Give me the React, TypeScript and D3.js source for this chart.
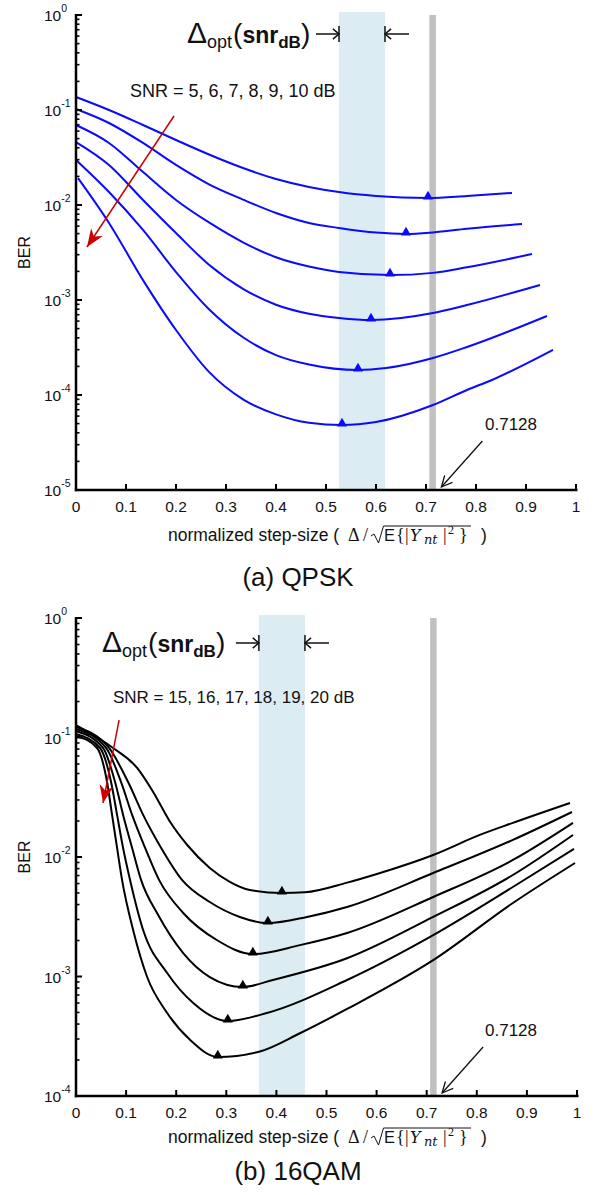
import React from "react";
import * as d3 from "d3";

type Pt = [number, number];

// ---------- (a) QPSK : BER vs normalized step-size, SNR = 5..10 dB ----------
const qpskSnr5: Pt[] = [[0, 0.137], [0.066, 0.1], [0.134, 0.0695], [0.2, 0.0483], [0.266, 0.034], [0.334, 0.0245], [0.4, 0.0188], [0.466, 0.0155], [0.526, 0.0137], [0.6, 0.01245], [0.704, 0.01185], [0.782, 0.01245], [0.872, 0.0134]];
const qpskSnr6: Pt[] = [[0, 0.1025], [0.066, 0.073], [0.134, 0.045], [0.2, 0.0264], [0.266, 0.0165], [0.334, 0.0114], [0.4, 0.00824], [0.466, 0.00647], [0.526, 0.00573], [0.6, 0.00512], [0.66, 0.00495], [0.714, 0.00514], [0.782, 0.00562], [0.892, 0.0063]];
const qpskSnr7: Pt[] = [[0, 0.0695], [0.066, 0.045], [0.134, 0.0222], [0.2, 0.0113], [0.266, 0.00655], [0.334, 0.00405], [0.4, 0.00282], [0.466, 0.00225], [0.526, 0.00197], [0.628, 0.00183], [0.714, 0.00193], [0.782, 0.00221], [0.912, 0.00305]];
const qpskSnr8: Pt[] = [[0, 0.046], [0.066, 0.0264], [0.134, 0.0113], [0.2, 0.00507], [0.266, 0.00235], [0.334, 0.00131], [0.4, 0.000891], [0.466, 0.000716], [0.526, 0.000647], [0.59, 0.000616], [0.714, 0.00073], [0.782, 0.000886], [0.928, 0.00144]];
const qpskSnr9: Pt[] = [[0, 0.0298], [0.066, 0.0137], [0.134, 0.00546], [0.2, 0.00197], [0.266, 0.000800], [0.334, 0.000405], [0.4, 0.000263], [0.466, 0.000209], [0.564, 0.000183], [0.62, 0.000192], [0.714, 0.000245], [0.782, 0.00032], [0.942, 0.000679]];
const qpskSnr10: Pt[] = [[0.004, 0.0192], [0.066, 0.00647], [0.134, 0.00162], [0.2, 0.000483], [0.266, 0.000175], [0.334, 0.0000900], [0.4, 0.0000625], [0.466, 0.0000510], [0.532, 0.0000483], [0.6, 0.000052], [0.714, 0.0000785], [0.782, 0.000113], [0.832, 0.000144], [0.954, 0.000298]];
// minimum-BER step size of each curve
const qpskOptimum: Pt[] = [[0.704, 0.01185], [0.66, 0.00495], [0.628, 0.00183], [0.59, 0.000616], [0.564, 0.000183], [0.532, 0.0000483]];
const qpskBand: [number, number] = [0.526, 0.618];

// ---------- (b) 16QAM : SNR = 15..20 dB ----------
const qamSnr15: Pt[] = [[0, 0.127], [0.074, 0.0817], [0.122, 0.0556], [0.154, 0.035], [0.188, 0.0196], [0.222, 0.0126], [0.267, 0.0081], [0.307, 0.0062], [0.347, 0.0053], [0.411, 0.005], [0.457, 0.00507], [0.541, 0.0061], [0.607, 0.00735], [0.713, 0.0104], [0.806, 0.0153], [0.872, 0.0193], [0.986, 0.0283]];
const qamSnr16: Pt[] = [[0, 0.1225], [0.066, 0.0817], [0.104, 0.0424], [0.134, 0.0225], [0.17, 0.0119], [0.212, 0.0064], [0.267, 0.0042], [0.327, 0.00315], [0.383, 0.0028], [0.461, 0.00315], [0.541, 0.00382], [0.713, 0.00735], [0.872, 0.0139], [0.99, 0.0238]];
const qamSnr17: Pt[] = [[0, 0.1178], [0.06, 0.0817], [0.09, 0.0424], [0.112, 0.0225], [0.138, 0.0119], [0.166, 0.0064], [0.214, 0.0034], [0.281, 0.00202], [0.353, 0.00154], [0.447, 0.00183], [0.541, 0.00231], [0.713, 0.00463], [0.872, 0.00944], [0.992, 0.0193]];
const qamSnr18: Pt[] = [[0, 0.1134], [0.054, 0.0817], [0.078, 0.0424], [0.094, 0.0225], [0.112, 0.0119], [0.13, 0.0064], [0.164, 0.00327], [0.214, 0.00157], [0.267, 0.00099], [0.333, 0.000817], [0.393, 0.000935], [0.541, 0.00142], [0.713, 0.00315], [0.872, 0.00707], [0.992, 0.0153]];
const qamSnr19: Pt[] = [[0, 0.107], [0.048, 0.0817], [0.07, 0.0424], [0.082, 0.0225], [0.094, 0.0119], [0.108, 0.0064], [0.134, 0.00245], [0.182, 0.00107], [0.234, 0.0006], [0.303, 0.000424], [0.381, 0.000495], [0.541, 0.000935], [0.713, 0.00222], [0.872, 0.00561], [0.994, 0.0117]];
const qamSnr20: Pt[] = [[0, 0.103], [0.042, 0.0817], [0.062, 0.0424], [0.072, 0.0225], [0.082, 0.0119], [0.092, 0.0064], [0.114, 0.00245], [0.142, 0.00099], [0.182, 0.000495], [0.228, 0.000294], [0.283, 0.000212], [0.367, 0.000236], [0.447, 0.000335], [0.541, 0.000535], [0.713, 0.00137], [0.872, 0.00412], [0.996, 0.00891]];
const qamOptimum: Pt[] = [[0.411, 0.005], [0.383, 0.0028], [0.353, 0.00154], [0.333, 0.000817], [0.303, 0.000424], [0.283, 0.000212]];
const qamBand: [number, number] = [0.365, 0.457];

// shared axis values
const xTickValues = [0, 0.1, 0.2, 0.3, 0.4, 0.5, 0.6, 0.7, 0.8, 0.9, 1];
const xTickLabels = ["0", "0.1", "0.2", "0.3", "0.4", "0.5", "0.6", "0.7", "0.8", "0.9", "1"];
const GAUSS_STEP = 0.7128;

const SANS = "'Liberation Sans', Arial, Helvetica, sans-serif";
const SERIF = "'Liberation Serif', 'Times New Roman', serif";
const MATH = "'DejaVu Serif', serif";

interface PanelProps {
  curves: Pt[][];
  optimum: Pt[];
  color: string;
  band: [number, number];
  minExp: number;
  yTop: number;
  yBottom: number;
  xRight: number;
  legend: string;
  legendX: number;
  legendY: number;
  legendSize: number;
  deltaX: number;
  deltaY: number;
  arrowFrom: Pt;
  arrowTo: Pt;
  caption: string;
  labelY: number;
  captionY: number;
}

function openHead(tx: number, ty: number, fx: number, fy: number, len: number, ang: number) {
  const a = Math.atan2(fy - ty, fx - tx);
  const p1 = [tx + len * Math.cos(a + ang), ty + len * Math.sin(a + ang)];
  const p2 = [tx + len * Math.cos(a - ang), ty + len * Math.sin(a - ang)];
  return `M${p1[0]},${p1[1]} L${tx},${ty} L${p2[0]},${p2[1]}`;
}

function filledHead(tx: number, ty: number, fx: number, fy: number, len: number, half: number) {
  const a = Math.atan2(ty - fy, tx - fx);
  const bx = tx - len * Math.cos(a);
  const by = ty - len * Math.sin(a);
  const nx = -Math.sin(a) * half;
  const ny = Math.cos(a) * half;
  return `M${tx},${ty} L${bx + nx},${by + ny} L${bx + 0.3 * len * Math.cos(a)},${by + 0.3 * len * Math.sin(a)} L${bx - nx},${by - ny} Z`;
}

function XLabel({ y }: { y: number }) {
  return (
    <g fill="#111">
      <text x={168} y={y} fontFamily={SANS} fontSize={17.5}>normalized step-size (</text>
      <text x={348} y={y} fontFamily={SERIF} fontSize={18}>Δ</text>
      <text x={363} y={y} fontFamily={SERIF} fontSize={18}>/</text>
      <path d={`M371,${y - 5} L374,${y - 7} L378.5,${y + 2} L383.5,${y - 15} L471,${y - 15}`} fill="none" stroke="#111" strokeWidth={1} />
      <text x={384} y={y} fontFamily={SANS} fontSize={16.5}>E</text>
      <text x={396} y={y} fontFamily={SERIF} fontSize={18}>{"{"}</text>
      <text x={405} y={y} fontFamily={SERIF} fontSize={18}>|</text>
      <text x={410} y={y} fontFamily={MATH} fontSize={16} fontStyle="italic">Y</text>
      <text x={424} y={y + 3} fontFamily={MATH} fontSize={13} fontStyle="italic">nt</text>
      <text x={443} y={y} fontFamily={SERIF} fontSize={18}>|</text>
      <text x={448} y={y - 7} fontFamily={SERIF} fontSize={12}>2</text>
      <text x={459} y={y} fontFamily={SERIF} fontSize={18}>{"}"}</text>
      <text x={481} y={y} fontFamily={SANS} fontSize={17.5}>)</text>
    </g>
  );
}

function Panel(p: PanelProps) {
  const x = d3.scaleLinear().domain([0, 1]).range([76, p.xRight]);
  const y = d3.scaleLog().domain([Math.pow(10, p.minExp), 1]).range([p.yBottom, p.yTop]);
  const line = d3
    .line<Pt>()
    .x((d) => x(d[0]))
    .y((d) => y(d[1]))
    .curve(d3.curveMonotoneX);
  const tri = d3.symbol().type(d3.symbolTriangle).size(44)() as string;

  const decades = d3.range(p.minExp, 1);
  const minor: number[] = [];
  decades.slice(0, -1).forEach((e) => {
    for (let m = 2; m <= 9; m++) minor.push(m * Math.pow(10, e));
  });

  const bx0 = x(p.band[0]);
  const bx1 = x(p.band[1]);
  const gx = x(GAUSS_STEP);
  const ay = p.deltaY - 9;

  const [afx, afy] = [x(p.arrowFrom[0]), y(p.arrowFrom[1])];
  const [atx, aty] = [x(p.arrowTo[0]), y(p.arrowTo[1])];

  const tipX = gx + 9;
  const tipY = p.yBottom - 3;
  const tailX = tipX + 41;
  const tailY = tipY - 46;

  return (
    <g>
      {/* region of optimum step sizes */}
      <rect x={bx0} y={p.yTop - 3} width={bx1 - bx0} height={p.yBottom - p.yTop + 3} fill="#dbedf3" />
      {/* Gaussian-optimal step size */}
      <rect x={gx - 3} y={p.yTop} width={6.5} height={p.yBottom - p.yTop} fill="#c0c0c0" />

      {p.curves.map((c, i) => (
        <path key={i} d={line(c) as string} fill="none" stroke={p.color} strokeWidth={2} strokeLinejoin="round" />
      ))}
      {p.optimum.map((d, i) => (
        <path key={i} d={tri} transform={`translate(${x(d[0])},${y(d[1]) - 1.5})`} fill={p.color} />
      ))}

      {/* axes */}
      <line x1={76} x2={76} y1={p.yTop - 1} y2={p.yBottom + 1.2} stroke="#000" strokeWidth={2.5} />
      <line x1={74.8} x2={p.xRight + 1.5} y1={p.yBottom} y2={p.yBottom} stroke="#000" strokeWidth={2.5} />
      {decades.map((e) => (
        <g key={e}>
          <line x1={76} x2={82} y1={y(Math.pow(10, e))} y2={y(Math.pow(10, e))} stroke="#000" strokeWidth={2} />
          <text x={44} y={y(Math.pow(10, e)) + 6} fontFamily={SANS} fontSize={15.5} fill="#111">
            10
            <tspan fontSize={10.5} dy={-9}>{e === 0 ? "0" : `-${-e}`}</tspan>
          </text>
        </g>
      ))}
      {minor.map((v, i) => (
        <line key={i} x1={76} x2={79.5} y1={y(v)} y2={y(v)} stroke="#000" strokeWidth={1.6} />
      ))}
      {xTickValues.map((v, i) => (
        <g key={i}>
          <line x1={x(v)} x2={x(v)} y1={p.yBottom} y2={p.yBottom - 6} stroke="#000" strokeWidth={2} />
          <text x={x(v)} y={p.yBottom + 22} textAnchor="middle" fontFamily={SANS} fontSize={15.5} fill="#111">
            {xTickLabels[i]}
          </text>
        </g>
      ))}
      <text transform={`translate(30,${(p.yTop + p.yBottom) / 2}) rotate(-90)`} textAnchor="middle" fontFamily={SANS} fontSize={16} fill="#111">
        BER
      </text>
      <XLabel y={p.labelY} />
      <text x={298} y={p.captionY} textAnchor="middle" fontFamily={SANS} fontSize={26} fill="#111">
        {p.caption}
      </text>

      {/* Δopt(snr_dB) with its range markers */}
      <text x={p.deltaX} y={p.deltaY} fontFamily={SANS} fontSize={30} fill="#111">
        Δ
        <tspan fontSize={18} dy={5}>opt</tspan>
        <tspan fontSize={28} dy={-5} dx={1}>(</tspan>
        <tspan fontWeight="bold" fontSize={23}>snr</tspan>
        <tspan fontSize={17} dy={5} fontWeight="bold">dB</tspan>
        <tspan fontSize={28} dy={-5}>)</tspan>
      </text>
      <g stroke="#111" strokeWidth={1.5} fill="none">
        <line x1={bx0 - 23} x2={bx0} y1={ay} y2={ay} />
        <path d={openHead(bx0, ay, bx0 - 20, ay, 8, 0.7)} />
        <line x1={bx0} x2={bx0} y1={ay - 8} y2={ay + 8} />
        <line x1={bx1} x2={bx1 + 24} y1={ay} y2={ay} />
        <path d={openHead(bx1, ay, bx1 + 20, ay, 8, 0.7)} />
        <line x1={bx1} x2={bx1} y1={ay - 8} y2={ay + 8} />
      </g>

      <text x={p.legendX} y={p.legendY} fontFamily={SANS} fontSize={p.legendSize} fill="#111">
        {p.legend}
      </text>
      {/* direction of increasing SNR */}
      <line x1={afx} y1={afy} x2={atx} y2={aty} stroke="#cc0000" strokeWidth={1.5} />
      <path d={filledHead(atx, aty, afx, afy, 18, 7)} fill="#cc0000" />

      {/* 0.7128 callout */}
      <text x={485} y={tipY - 57} fontFamily={SANS} fontSize={17} fill="#111">
        {GAUSS_STEP.toString()}
      </text>
      <g stroke="#111" strokeWidth={1.3} fill="none">
        <line x1={tailX} y1={tailY} x2={tipX} y2={tipY} />
        <path d={openHead(tipX, tipY, tailX, tailY, 12, 0.45)} />
      </g>
    </g>
  );
}

export default function App() {
  return (
    <svg width={595} height={1195} style={{ position: "absolute", left: 0, top: 0, background: "#fff" }}>
      <rect width={595} height={1195} fill="#fff" />
      <Panel
        curves={[qpskSnr5, qpskSnr6, qpskSnr7, qpskSnr8, qpskSnr9, qpskSnr10]}
        optimum={qpskOptimum}
        color="#0a0aff"
        band={qpskBand}
        minExp={-5}
        yTop={15}
        yBottom={490}
        xRight={576}
        legend="SNR = 5, 6, 7, 8, 9, 10 dB"
        legendX={130}
        legendY={97}
        legendSize={18}
        deltaX={187}
        deltaY={43}
        arrowFrom={[0.196, 0.0865]}
        arrowTo={[0.022, 0.00361]}
        caption="(a) QPSK"
        labelY={541}
        captionY={586}
      />
      <Panel
        curves={[qamSnr15, qamSnr16, qamSnr17, qamSnr18, qamSnr19, qamSnr20]}
        optimum={qamOptimum}
        color="#000000"
        band={qamBand}
        minExp={-4}
        yTop={618}
        yBottom={1096}
        xRight={577}
        legend="SNR = 15, 16, 17, 18, 19, 20 dB"
        legendX={113}
        legendY={703}
        legendSize={17}
        deltaX={102}
        deltaY={652}
        arrowFrom={[0.086, 0.14]}
        arrowTo={[0.054, 0.0283]}
        caption="(b) 16QAM"
        labelY={1143}
        captionY={1180}
      />
    </svg>
  );
}
